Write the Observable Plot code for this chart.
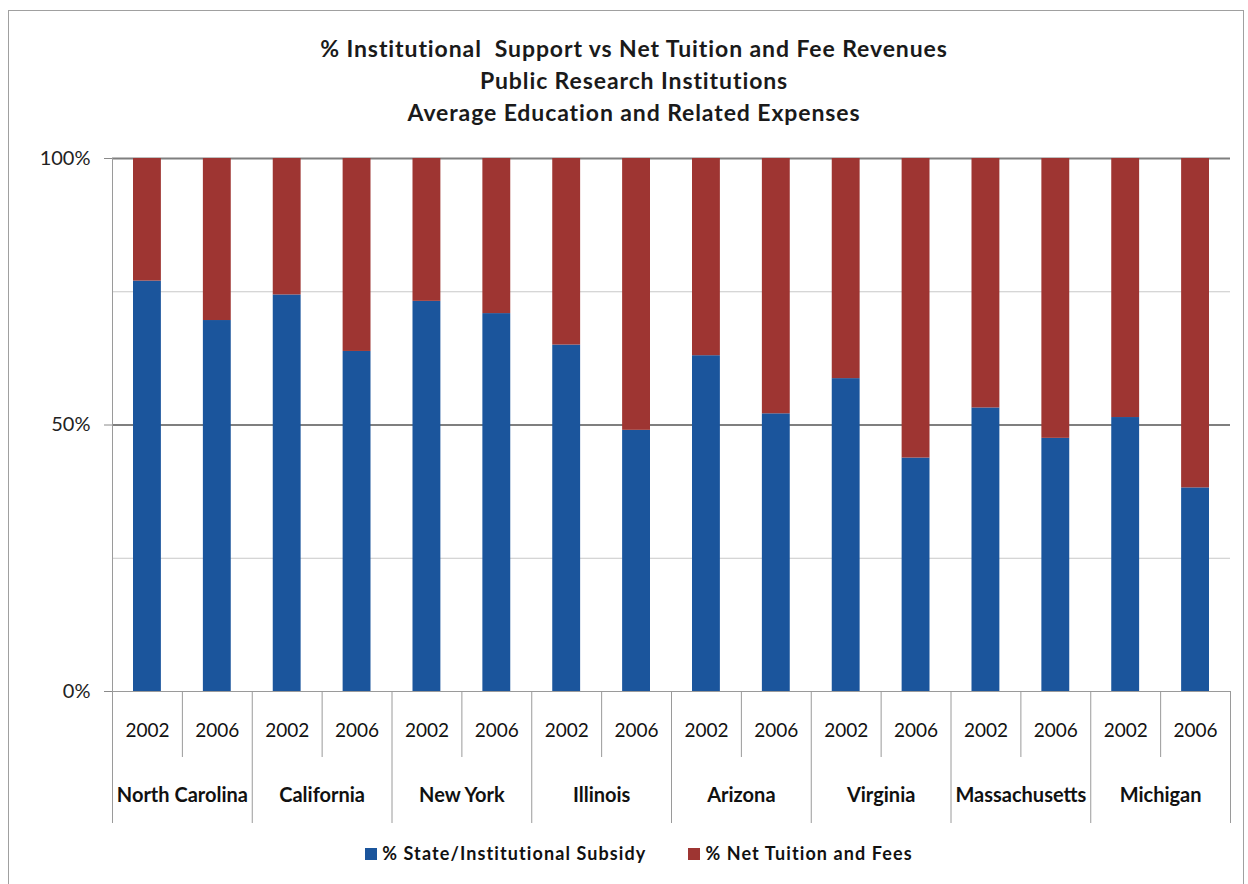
<!DOCTYPE html>
<html>
<head>
<meta charset="utf-8">
<script src="https://cdn.jsdelivr.net/npm/d3@7"></script>
<script src="https://cdn.jsdelivr.net/npm/@observablehq/plot@0.6"></script>
<style>
  html, body { margin: 0; padding: 0; background: #fff; }
  body { width: 1248px; height: 884px; position: relative; overflow: hidden; font-family: Lato, "Open Sans", sans-serif; }
  #frame { position: absolute; left: 8px; top: 10px; width: 1236px; height: 880px; border: 1px solid #a0a0a0; box-sizing: border-box; }
  #title { position: absolute; left: 0; top: 32px; width: 1268px; text-align: center; font-weight: 700; font-size: 23px; letter-spacing: 0.9px; line-height: 32px; color: #1a1a1a; }
  #chart { position: absolute; left: 0; top: 128px; }
  #legend { position: absolute; left: 0; top: 842px; width: 1278px; text-align: center; font-size: 18px; letter-spacing: 1.1px; font-weight: 700; color: #111; }
  .sw { display: inline-block; width: 12px; height: 12px; margin-right: 5px; vertical-align: 0px; }
  .item { display: inline-block; margin: 0 21px; }
</style>
</head>
<body>
<div id="frame"></div>
<div id="title">% Institutional&nbsp; Support vs Net Tuition and Fee Revenues<br>Public Research Institutions<br>Average Education and Related Expenses</div>
<div id="chart"></div>
<div id="legend"></div>
<script>
const states = ["North Carolina", "California", "New York", "Illinois", "Arizona", "Virginia", "Massachusetts", "Michigan"];
const years = ["2002", "2006"];
const seriesNames = ["% State/Institutional Subsidy", "% Net Tuition and Fees"];
const seriesColors = ["#1b559c", "#9e3532"];
// share of education and related expenses, per state and year (2002, 2006)
const subsidy = [0.770, 0.696, 0.744, 0.638, 0.732, 0.709, 0.650, 0.490, 0.630, 0.521, 0.587, 0.438, 0.532, 0.475, 0.514, 0.382];
const tuition = [0.230, 0.304, 0.256, 0.362, 0.268, 0.291, 0.350, 0.510, 0.370, 0.479, 0.413, 0.562, 0.468, 0.525, 0.486, 0.618];
const yTicks = [0, 0.5, 1];
const minorGrid = [0.25, 0.75];
const majorGrid = [0.5, 1];

// build rows
const cols = [];
states.forEach((s, si) => years.forEach((y, yi) => cols.push({state: s, year: y, i: si * 2 + yi})));
const rows = [];
cols.forEach((c, k) => {
  const vals = [subsidy[k], tuition[k]];
  let acc = 0;
  vals.forEach((v, j) => {
    rows.push({i0: c.i, i1: c.i + 1, y1: acc, y2: acc + v, series: seriesNames[j]});
    acc += v;
  });
});

const W = 1248, H = 707, mT = 30, mB = 144, mL = 112, mR = 18;
const plotH = H - mT - mB;
const below = px => -px / plotH;
const bounds = d3.range(0, cols.length + 1);

const chart = Plot.plot({
  width: W, height: H,
  marginTop: mT, marginBottom: mB, marginLeft: mL, marginRight: mR,
  style: {fontFamily: "Lato, 'Open Sans', sans-serif", fontSize: "17px", color: "#111", background: "transparent"},
  x: {type: "linear", domain: [0, cols.length], axis: null},
  y: {domain: [0, 1], axis: null},
  color: {domain: seriesNames, range: seriesColors},
  marks: [
    Plot.ruleY(minorGrid, {stroke: "#c8c8c8", strokeWidth: 1}),
    Plot.ruleY(majorGrid, {stroke: "#7f7f7f", strokeWidth: 2}),
    Plot.rect(rows, {x1: "i0", x2: "i1", y1: "y1", y2: "y2", fill: "series", insetLeft: 21, insetRight: 21}),
    Plot.ruleY([0], {stroke: "#9a9a9a", strokeWidth: 1}),
    Plot.axisY({ticks: yTicks, tickFormat: d => Math.round(d * 100) + "%", tickSize: 8, tickPadding: 14, label: null, fontSize: 20, stroke: "#8a8a8a", fill: "#222"}),
    Plot.ruleX([0], {y1: 0, y2: 1, stroke: "#9a9a9a", strokeWidth: 1}),
    Plot.ruleX(bounds.filter(b => b % 2 === 0), {y1: 0, y2: below(132), stroke: "#9a9a9a", strokeWidth: 1}),
    Plot.ruleX(bounds.filter(b => b % 2 === 1), {y1: 0, y2: below(66), stroke: "#9a9a9a", strokeWidth: 1}),
    Plot.text(cols, {x: c => c.i + 0.5, y: () => 0, text: "year", dy: 39, fontSize: 19, fill: "#111"}),
    Plot.text(states, {x: (s, k) => k * 2 + 1, y: () => 0, text: d => d, dy: 104, fontSize: 20, fontWeight: "bold", fill: "#111"})
  ]
});
document.getElementById("chart").appendChild(chart);

const legend = document.getElementById("legend");
seriesNames.forEach((n, j) => {
  const it = document.createElement("span");
  it.className = "item";
  it.innerHTML = `<span class="sw" style="background:${seriesColors[j]}"></span>${n}`;
  legend.appendChild(it);
});
</script>
</body>
</html>
